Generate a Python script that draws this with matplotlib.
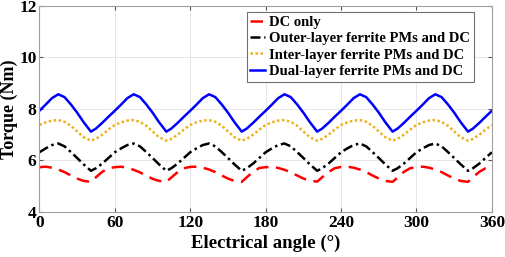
import numpy as np
import matplotlib
matplotlib.use("Agg")
import matplotlib.pyplot as plt

plt.rcParams['font.family'] = ['Liberation Serif', 'DejaVu Serif']
plt.rcParams['font.weight'] = 'bold'

# electrical angle (deg)
angle = [0, 5, 10, 15, 20, 25, 30, 35, 41, 45, 50, 55,
         60, 65, 70, 75, 80, 85, 90, 95, 101, 105, 110, 115,
         120, 125, 130, 135, 140, 145, 150, 155, 161, 165, 170, 175,
         180, 185, 190, 195, 200, 205, 210, 215, 221, 225, 230, 235,
         240, 245, 250, 255, 260, 265, 270, 275, 281, 285, 290, 295,
         300, 305, 310, 315, 320, 325, 330, 335, 341, 345, 350, 355,
         360]

dc_only = [5.74, 5.76, 5.72, 5.65, 5.55, 5.42, 5.30, 5.21, 5.17, 5.35, 5.56, 5.70,
           5.74, 5.76, 5.71, 5.64, 5.54, 5.41, 5.29, 5.21, 5.17, 5.34, 5.55, 5.70,
           5.75, 5.76, 5.72, 5.65, 5.55, 5.42, 5.30, 5.21, 5.17, 5.35, 5.56, 5.71,
           5.74, 5.75, 5.71, 5.64, 5.54, 5.42, 5.30, 5.22, 5.18, 5.35, 5.55, 5.70,
           5.75, 5.76, 5.72, 5.65, 5.55, 5.42, 5.30, 5.21, 5.17, 5.34, 5.56, 5.70,
           5.74, 5.76, 5.72, 5.65, 5.55, 5.42, 5.30, 5.21, 5.17, 5.35, 5.56, 5.70,
           5.75]

outer = [6.32, 6.47, 6.60, 6.66, 6.55, 6.33, 6.10, 5.86, 5.60, 5.70, 5.88, 6.10,
         6.32, 6.47, 6.60, 6.66, 6.55, 6.33, 6.10, 5.86, 5.60, 5.70, 5.88, 6.10,
         6.32, 6.47, 6.60, 6.66, 6.55, 6.33, 6.10, 5.86, 5.60, 5.70, 5.88, 6.10,
         6.32, 6.47, 6.60, 6.66, 6.55, 6.33, 6.10, 5.86, 5.60, 5.70, 5.88, 6.10,
         6.32, 6.47, 6.60, 6.66, 6.55, 6.33, 6.10, 5.86, 5.60, 5.70, 5.88, 6.10,
         6.32, 6.47, 6.60, 6.66, 6.55, 6.33, 6.10, 5.86, 5.60, 5.70, 5.88, 6.10,
         6.32]

inter = [7.38, 7.48, 7.55, 7.57, 7.50, 7.35, 7.13, 6.91, 6.77, 6.84, 7.00, 7.20,
         7.38, 7.48, 7.55, 7.57, 7.50, 7.35, 7.13, 6.91, 6.77, 6.84, 7.00, 7.20,
         7.38, 7.48, 7.55, 7.57, 7.50, 7.35, 7.13, 6.91, 6.77, 6.84, 7.00, 7.20,
         7.38, 7.48, 7.55, 7.57, 7.50, 7.35, 7.13, 6.91, 6.77, 6.84, 7.00, 7.20,
         7.38, 7.48, 7.55, 7.57, 7.50, 7.35, 7.13, 6.91, 6.77, 6.84, 7.00, 7.20,
         7.38, 7.48, 7.55, 7.57, 7.50, 7.35, 7.13, 6.91, 6.77, 6.84, 7.00, 7.20,
         7.38]

dual = [7.93, 8.17, 8.42, 8.57, 8.46, 8.18, 7.86, 7.50, 7.12, 7.24, 7.46, 7.70,
        7.93, 8.17, 8.42, 8.57, 8.46, 8.18, 7.86, 7.50, 7.12, 7.24, 7.46, 7.70,
        7.93, 8.17, 8.42, 8.57, 8.46, 8.18, 7.86, 7.50, 7.12, 7.24, 7.46, 7.70,
        7.93, 8.17, 8.42, 8.57, 8.46, 8.18, 7.86, 7.50, 7.12, 7.24, 7.46, 7.70,
        7.93, 8.17, 8.42, 8.57, 8.46, 8.18, 7.86, 7.50, 7.12, 7.24, 7.46, 7.70,
        7.93, 8.17, 8.42, 8.57, 8.46, 8.18, 7.86, 7.50, 7.12, 7.24, 7.46, 7.70,
        7.93]

labels = ["DC only", "Outer-layer ferrite PMs and DC",
          "Inter-layer ferrite PMs and DC", "Dual-layer ferrite PMs and DC"]

fig = plt.figure(figsize=(5.05, 2.57), dpi=100)
ax = fig.add_axes([0.078, 0.175, 0.896, 0.802])

ax.plot(angle, dc_only, color='red', ls=(0, (5, 3)), lw=1.8, label=labels[0])
ax.plot(angle, outer, color='black', ls=(0, (4, 1.5, 1, 1.5)), lw=1.8, label=labels[1])
ax.plot(angle, inter, color='#EDB120', ls=(0, (1, 1)), lw=1.8, label=labels[2])
ax.plot(angle, dual, color='blue', ls='-', lw=1.8, label=labels[3])

ax.set_xlim(0, 360)
ax.set_ylim(4, 12)
ax.set_xticks(np.arange(0, 361, 60))
ax.set_yticks(np.arange(4, 13, 2))
ax.grid(True, color='#e6e6e6', lw=0.7)
ax.set_axisbelow(True)
ax.tick_params(direction='in', length=3, top=True, right=True,
               labelsize=12.5, pad=2, color='#555555')
for s in ax.spines.values():
    s.set_color('#a0a0a0')
    s.set_linewidth(0.8)

ax.set_xlabel("Electrical angle (°)", fontsize=13.5, fontweight='bold', labelpad=3)
ax.set_ylabel("Torque (Nm)", fontsize=13, fontweight='bold', labelpad=1)

leg = ax.legend(loc='upper right', bbox_to_anchor=(0.96, 0.971), fontsize=10.5,
                handlelength=1.0, handletextpad=0.3, labelspacing=0.22,
                borderpad=0.25, borderaxespad=0, fancybox=False, framealpha=1)
leg.get_frame().set_edgecolor('#707070')
leg.get_frame().set_linewidth(0.8)

fig.savefig("out.png", dpi=100)
